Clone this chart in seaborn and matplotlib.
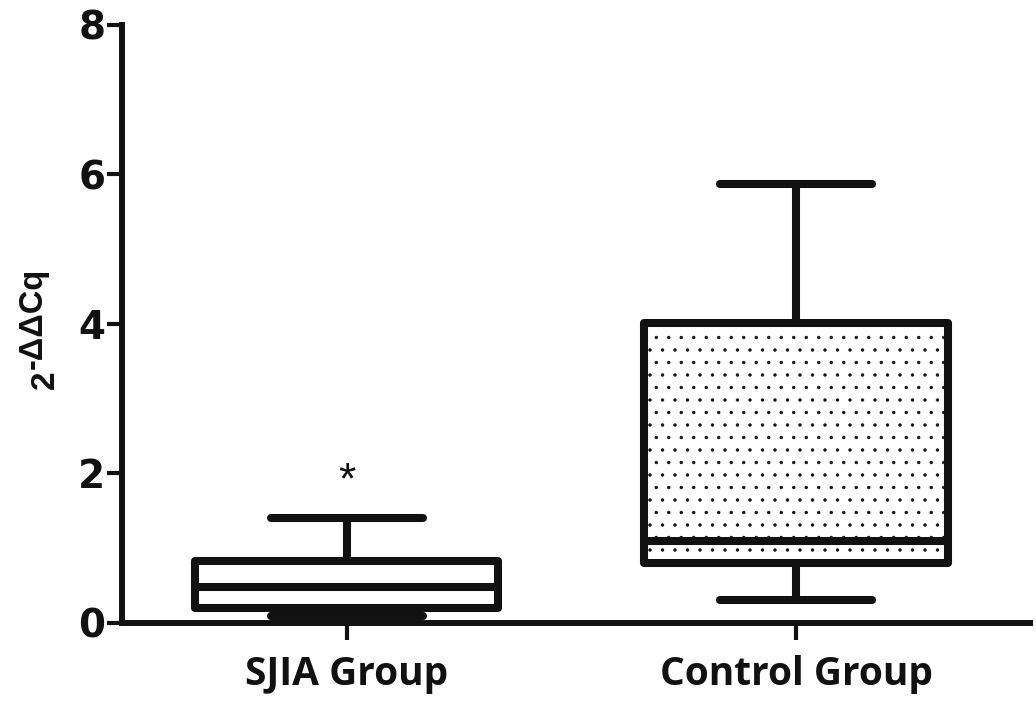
import seaborn as sns
import matplotlib.pyplot as plt
import pandas as pd
from matplotlib.backend_bases import GraphicsContextBase

# Five-number summaries (min, Q1, median, Q3, max)
groups = ["SJIA Group", "Control Group"]
sjia_values = [0.09, 0.20, 0.475, 0.83, 1.40]
control_values = [0.31, 0.80, 1.10, 4.01, 5.87]
y_ticks = [0, 2, 4, 6, 8]

df = pd.DataFrame({
    "group": [groups[0]] * len(sjia_values) + [groups[1]] * len(control_values),
    "value": sjia_values + control_values,
})

# sparser dot hatch (default density is 6 per inch per symbol)
_get_hatch_path = GraphicsContextBase.get_hatch_path
def _sparse_hatch(self, density=4.0):
    return _get_hatch_path(self, density)
GraphicsContextBase.get_hatch_path = _sparse_hatch

sns.set_style("ticks")
plt.rcParams["font.family"] = ["Liberation Sans", "DejaVu Sans"]
plt.rcParams["font.weight"] = "bold"
plt.rcParams["hatch.linewidth"] = 0.6

fig = plt.figure(figsize=(10.36, 7.06), dpi=100)
ax = fig.add_axes([0.1178, 0.1176, 0.8762, 0.847])

lw = 5.8
sns.boxplot(data=df, x="group", y="value", order=groups, whis=(0, 100),
            width=0.675, color="white", linecolor="#111111", linewidth=lw,
            showfliers=False, ax=ax,
            boxprops=dict(joinstyle="round"),
            whiskerprops=dict(solid_capstyle="round"),
            capprops=dict(solid_capstyle="round"),
            medianprops=dict(solid_capstyle="butt"))

# dotted fill on the control box
ax.patches[1].set_hatch("..")

# significance marker
ax.text(0, 1.89, "*", ha="center", va="center", fontsize=32,
        fontweight="normal", color="#111111")

ax.set_xlim(-0.5, 1.52)
ax.set_ylim(0, 8)
ax.set_yticks(y_ticks)
ax.set_xlabel("")
ax.set_ylabel("")

# y label: 2 with a raised -ΔΔCq
fig.text(0.0435, 1 - 380 / 706, "2", rotation=90, ha="center", va="center",
         fontsize=24, fontweight="bold", color="#111111")
fig.text(0.0319, 1 - 369 / 706, "-ΔΔCq", rotation=90, ha="center", va="bottom",
         fontsize=23.5, fontweight="bold", color="#111111")

for side in ["top", "right"]:
    ax.spines[side].set_visible(False)
for side in ["left", "bottom"]:
    ax.spines[side].set_linewidth(4.3)
    ax.spines[side].set_color("#111111")

ax.tick_params(axis="y", length=11, width=3, pad=1, colors="#111111")
ax.tick_params(axis="x", length=12, width=3, pad=11, colors="#111111")
ax.set_yticklabels([str(t) for t in y_ticks], fontsize=28, fontweight="bold",
                   family="DejaVu Sans")
ax.set_xticks(range(len(groups)))
ax.set_xticklabels(groups, fontsize=28, fontweight="bold", family="Open Sans")

fig.savefig("out.png", dpi=100)
